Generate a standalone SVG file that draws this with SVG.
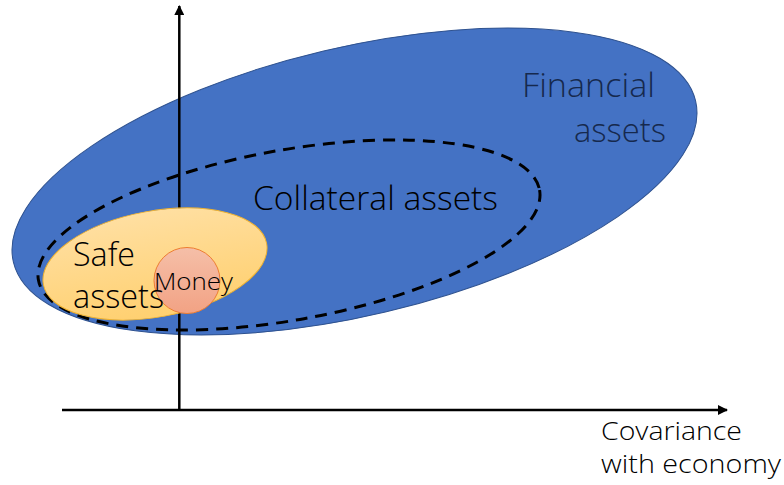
<svg xmlns="http://www.w3.org/2000/svg" width="784" height="485" viewBox="0 0 784 485">
  <style>
    .lbl { font-family: "Open Sans", "Liberation Sans", sans-serif; font-weight: 300; }
    .axis { stroke: #000; stroke-width: 2.5; fill: none; }
  </style>
  <defs>
    <marker id="arr" viewBox="0 0 10 10" refX="9" refY="5" markerWidth="4.5" markerHeight="4" markerUnits="strokeWidth" orient="auto">
      <path d="M0,0 L10,5 L0,10 z" fill="#000"/>
    </marker>
    <linearGradient id="gSafe" x1="0" y1="0" x2="0" y2="1">
      <stop offset="0" stop-color="#FFDFA1"/>
      <stop offset="1" stop-color="#FFD070"/>
    </linearGradient>
    <linearGradient id="gMoney" x1="0" y1="0" x2="0" y2="1">
      <stop offset="0" stop-color="#F5BFA8"/>
      <stop offset="1" stop-color="#F2A284"/>
    </linearGradient>
  </defs>

  <g id="financial-assets">
    <ellipse cx="354.5" cy="181.5" rx="350.5" ry="134.2" transform="rotate(-13.3 354.5 181.5)" fill="#4472C4" stroke="#2F528F" stroke-width="1"/>
  </g>

  <g id="connectors">
    <line class="axis" x1="179.3" y1="410" x2="179.3" y2="6" marker-end="url(#arr)"/>
    <line class="axis" x1="62" y1="410" x2="727" y2="410" marker-end="url(#arr)"/>
  </g>

  <g id="collateral-assets">
    <ellipse cx="289" cy="235" rx="254.6" ry="85" transform="rotate(-10.2 289 235)" fill="none" stroke="#000" stroke-width="3" stroke-dasharray="12 8"/>
  </g>

  <g id="safe-assets">
    <ellipse cx="155" cy="264" rx="113.5" ry="53" transform="rotate(-10.4 155 264)" fill="url(#gSafe)" stroke="#F0B230" stroke-width="1"/>
  </g>

  <g id="money">
    <circle cx="187" cy="280.5" r="33" fill="url(#gMoney)" stroke="#ED7D31" stroke-width="1"/>
  </g>

  <g id="labels">
    <text class="lbl" x="522" y="97" font-size="33" fill="#16294D" textLength="133" lengthAdjust="spacingAndGlyphs">Financial</text>
    <text class="lbl" x="574" y="142" font-size="33" fill="#16294D" textLength="92" lengthAdjust="spacingAndGlyphs">assets</text>
    <text class="lbl" x="253" y="210" font-size="33" fill="#000" textLength="245" lengthAdjust="spacingAndGlyphs">Collateral assets</text>
    <text class="lbl" x="73" y="266" font-size="33" fill="#000" textLength="62" lengthAdjust="spacingAndGlyphs">Safe</text>
    <text class="lbl" x="73" y="308" font-size="33" fill="#000" textLength="91" lengthAdjust="spacingAndGlyphs">assets</text>
    <text class="lbl" x="154" y="290" font-size="24" fill="#000" textLength="79" lengthAdjust="spacingAndGlyphs">Money</text>
    <text class="lbl" x="601" y="440" font-size="26" fill="#000" textLength="141" lengthAdjust="spacingAndGlyphs">Covariance</text>
    <text class="lbl" x="601" y="473" font-size="26" fill="#000" textLength="180" lengthAdjust="spacingAndGlyphs">with economy</text>
  </g>
</svg>
